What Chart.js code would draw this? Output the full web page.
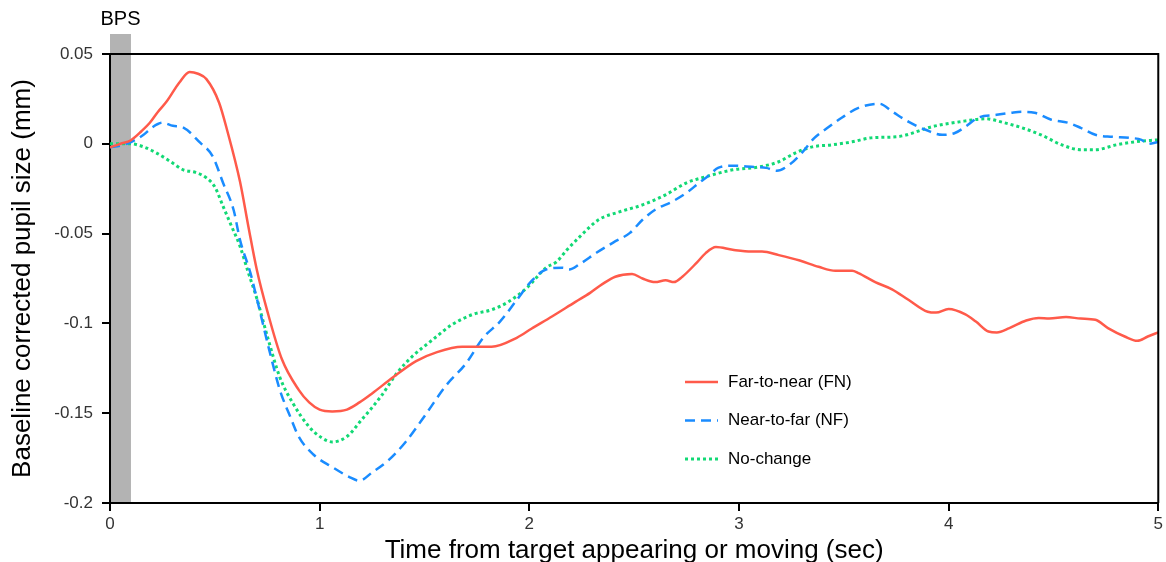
<!DOCTYPE html>
<html>
<head>
<meta charset="utf-8">
<script src="https://cdn.jsdelivr.net/npm/chart.js@4.4.1/dist/chart.umd.min.js"></script>
<style>
    html, body { margin: 0; padding: 0; background: #ffffff; }
    #wrap { position: relative; width: 1166px; height: 562px; }
</style>
</head>
<body>
<div id="wrap"><canvas id="pupilChart"></canvas></div>
<script>
// Time axis (sec) and pupil size (mm)
const fnTime = [0, 0.05, 0.1, 0.15, 0.19, 0.23, 0.27, 0.33, 0.38, 0.42, 0.46, 0.52, 0.56, 0.62, 0.66, 0.70, 0.75, 0.82, 0.9, 0.95, 1.0, 1.06, 1.13, 1.19, 1.25, 1.35, 1.46, 1.56, 1.68, 1.82, 1.94, 2.01, 2.11, 2.22, 2.29, 2.35, 2.41, 2.49, 2.54, 2.60, 2.65, 2.69, 2.73, 2.80, 2.84, 2.89, 2.97, 3.06, 3.11, 3.19, 3.29, 3.38, 3.46, 3.54, 3.57, 3.65, 3.73, 3.81, 3.90, 3.94, 4.0, 4.08, 4.13, 4.19, 4.23, 4.29, 4.37, 4.43, 4.48, 4.56, 4.63, 4.70, 4.76, 4.84, 4.90, 4.95, 5.0];
const fnVals = [-0.002, 0.0, 0.002, 0.007, 0.0117, 0.018, 0.0235, 0.034, 0.040, 0.039, 0.036, 0.023, 0.007, -0.021, -0.046, -0.070, -0.093, -0.120, -0.137, -0.144, -0.148, -0.149, -0.148, -0.144, -0.139, -0.130, -0.121, -0.116, -0.113, -0.113, -0.108, -0.103, -0.096, -0.088, -0.083, -0.078, -0.074, -0.0725, -0.075, -0.077, -0.076, -0.077, -0.074, -0.066, -0.061, -0.0575, -0.059, -0.060, -0.060, -0.062, -0.065, -0.0685, -0.0707, -0.0707, -0.072, -0.077, -0.081, -0.087, -0.0935, -0.094, -0.092, -0.095, -0.099, -0.1045, -0.105, -0.1026, -0.0984, -0.097, -0.0973, -0.0965, -0.0973, -0.098, -0.1026, -0.1073, -0.1097, -0.1073, -0.105];

const nfTime = [0, 0.05, 0.1, 0.16, 0.2, 0.25, 0.3, 0.35, 0.43, 0.49, 0.54, 0.59, 0.62, 0.67, 0.70, 0.76, 0.81, 0.86, 0.9, 0.97, 1.06, 1.14, 1.19, 1.25, 1.33, 1.41, 1.51, 1.6, 1.7, 1.78, 1.86, 1.94, 2.01, 2.08, 2.16, 2.19, 2.24, 2.32, 2.40, 2.48, 2.54, 2.6, 2.68, 2.75, 2.81, 2.86, 2.9, 2.97, 3.06, 3.13, 3.18, 3.24, 3.3, 3.36, 3.41, 3.49, 3.57, 3.67, 3.73, 3.81, 3.89, 3.97, 4.03, 4.08, 4.14, 4.22, 4.30, 4.35, 4.41, 4.49, 4.57, 4.63, 4.70, 4.78, 4.86, 4.92, 4.95, 5.0];
const nfVals = [-0.002, -0.001, 0.001, 0.005, 0.009, 0.0117, 0.010, 0.009, 0.0006, -0.007, -0.022, -0.037, -0.0535, -0.072, -0.086, -0.115, -0.137, -0.152, -0.163, -0.173, -0.180, -0.1854, -0.1876, -0.183, -0.176, -0.166, -0.150, -0.135, -0.122, -0.108, -0.099, -0.087, -0.0765, -0.070, -0.069, -0.070, -0.067, -0.0607, -0.055, -0.0496, -0.0423, -0.0367, -0.0323, -0.0273, -0.0217, -0.0173, -0.0134, -0.0122, -0.0128, -0.0134, -0.015, -0.0117, -0.005, 0.0033, 0.0078, 0.0145, 0.020, 0.0223, 0.018, 0.0122, 0.0078, 0.005, 0.006, 0.0095, 0.0145, 0.016, 0.0173, 0.0178, 0.0173, 0.0134, 0.0117, 0.0089, 0.005, 0.0039, 0.0033, 0.0022, 0.0, 0.001];

const ncTime = [0, 0.1, 0.16, 0.22, 0.29, 0.35, 0.41, 0.46, 0.5, 0.54, 0.58, 0.62, 0.66, 0.70, 0.75, 0.81, 0.87, 0.95, 1.01, 1.06, 1.13, 1.2, 1.29, 1.37, 1.44, 1.54, 1.63, 1.73, 1.82, 1.9, 1.99, 2.08, 2.13, 2.18, 2.24, 2.33, 2.43, 2.54, 2.65, 2.75, 2.84, 2.97, 3.1, 3.19, 3.27, 3.35, 3.44, 3.54, 3.63, 3.75, 3.80, 3.92, 4.05, 4.18, 4.25, 4.35, 4.44, 4.54, 4.63, 4.70, 4.80, 4.89, 5.0];
const ncVals = [0.0, 0.0, -0.0017, -0.005, -0.010, -0.0145, -0.016, -0.019, -0.024, -0.035, -0.046, -0.057, -0.0718, -0.086, -0.107, -0.130, -0.144, -0.1576, -0.1637, -0.166, -0.163, -0.1537, -0.141, -0.1275, -0.1186, -0.109, -0.1008, -0.095, -0.0924, -0.088, -0.080, -0.069, -0.0657, -0.059, -0.0518, -0.0423, -0.0379, -0.034, -0.0284, -0.0217, -0.0184, -0.0145, -0.0128, -0.010, -0.005, -0.0017, -0.0006, 0.0011, 0.0033, 0.0039, 0.005, 0.0095, 0.0122, 0.0139, 0.0122, 0.0089, 0.005, -0.0006, -0.0033, -0.0033, -0.0006, 0.0011, 0.0022];

const seriesNames = ['Far-to-near (FN)', 'Near-to-far (NF)', 'No-change'];
const bpsWindow = [0, 0.1]; // baseline period, sec

function toPoints(xs, ys) {
    return xs.map((x, i) => ({ x: x, y: ys[i] }));
}

// Grey baseline band, outer frame and the in-plot legend
const decorPlugin = {
    id: 'decor',
    beforeDraw(chart) {
        const { ctx, chartArea, scales } = chart;
        const x0 = scales.x.getPixelForValue(bpsWindow[0]);
        const x1 = scales.x.getPixelForValue(bpsWindow[1]);
        ctx.save();
        ctx.fillStyle = '#b3b3b3';
        ctx.fillRect(x0, chartArea.top - 20, x1 - x0, chartArea.bottom - chartArea.top + 20);
        ctx.fillStyle = '#000000';
        ctx.font = '20px "Liberation Sans", Arial, sans-serif';
        ctx.textAlign = 'center';
        ctx.textBaseline = 'middle';
        ctx.fillText('BPS', (x0 + x1) / 2, chartArea.top - 35);
        ctx.restore();
    },
    afterDraw(chart) {
        const { ctx, chartArea } = chart;
        ctx.save();
        ctx.strokeStyle = '#000000';
        ctx.lineWidth = 2;
        ctx.beginPath();
        ctx.moveTo(chartArea.left, chartArea.top);
        ctx.lineTo(chartArea.right, chartArea.top);
        ctx.lineTo(chartArea.right, chartArea.bottom);
        ctx.stroke();

        // legend
        const lx = 685, ly = 382, gap = 38.5;
        ctx.font = '17px "Liberation Sans", Arial, sans-serif';
        ctx.textBaseline = 'middle';
        chart.data.datasets.forEach((ds, i) => {
            const y = ly + i * gap;
            ctx.strokeStyle = ds.borderColor;
            ctx.lineWidth = ds.borderWidth;
            ctx.setLineDash(ds.borderDash || []);
            ctx.beginPath();
            ctx.moveTo(lx, y);
            ctx.lineTo(lx + 33, y);
            ctx.stroke();
            ctx.setLineDash([]);
            ctx.fillStyle = '#000000';
            ctx.fillText(ds.label, lx + 43, y);
        });
        ctx.restore();
    }
};

const ctx = document.getElementById('pupilChart').getContext('2d');

new Chart(ctx, {
    type: 'line',
    data: {
        datasets: [{
            label: seriesNames[0],
            data: toPoints(fnTime, fnVals),
            borderColor: '#ff5a4a',
            borderWidth: 2.5,
            borderDash: [],
            cubicInterpolationMode: 'monotone',
            pointRadius: 0
        }, {
            label: seriesNames[1],
            data: toPoints(nfTime, nfVals),
            borderColor: '#1a8cff',
            borderWidth: 2.5,
            borderDash: [10, 6],
            cubicInterpolationMode: 'monotone',
            pointRadius: 0
        }, {
            label: seriesNames[2],
            data: toPoints(ncTime, ncVals),
            borderColor: '#12d975',
            borderWidth: 3,
            borderDash: [3, 3],
            cubicInterpolationMode: 'monotone',
            pointRadius: 0
        }]
    },
    options: {
        responsive: true,
        maintainAspectRatio: false,
        animation: false,
        layout: {
            padding: { top: 54, right: 6, bottom: 0, left: 0 }
        },
        plugins: {
            legend: { display: false },
            tooltip: { enabled: false }
        },
        scales: {
            x: {
                type: 'linear',
                min: 0,
                max: 5,
                afterFit: s => { s.height = 59; },
                border: { display: true, color: '#000000', width: 2 },
                grid: {
                    drawOnChartArea: false,
                    drawTicks: true,
                    tickLength: 8,
                    color: '#000000',
                    lineWidth: 2
                },
                ticks: {
                    stepSize: 1,
                    padding: 3,
                    color: '#333333',
                    font: { family: '"Liberation Sans", Arial, sans-serif', size: 17 }
                },
                title: {
                    display: true,
                    text: 'Time from target appearing or moving (sec)',
                    color: '#000000',
                    font: { family: '"Liberation Sans", Arial, sans-serif', size: 26, lineHeight: 0.85 },
                    padding: { top: 0, bottom: 0 }
                }
            },
            y: {
                min: -0.2,
                max: 0.05,
                afterFit: s => { s.width = 110; },
                border: { display: true, color: '#000000', width: 2 },
                grid: {
                    drawOnChartArea: false,
                    drawTicks: true,
                    tickLength: 8,
                    color: '#000000',
                    lineWidth: 2
                },
                ticks: {
                    stepSize: 0.05,
                    padding: 9,
                    color: '#333333',
                    font: { family: '"Liberation Sans", Arial, sans-serif', size: 17 },
                    callback: v => String(Math.round(v * 100) / 100)
                },
                title: {
                    display: true,
                    text: 'Baseline corrected pupil size (mm)',
                    color: '#000000',
                    font: { family: '"Liberation Sans", Arial, sans-serif', size: 26, lineHeight: 1 },
                    padding: { top: 10, bottom: 0 }
                }
            }
        }
    },
    plugins: [decorPlugin]
});
</script>
</body>
</html>
